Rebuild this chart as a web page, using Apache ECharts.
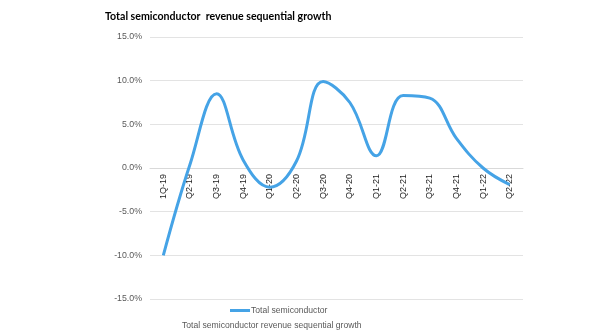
<!DOCTYPE html>
<html>
<head>
<meta charset="utf-8">
<script src="https://cdn.jsdelivr.net/npm/echarts@6/dist/echarts.min.js"></script>
<style>
  html, body { margin: 0; padding: 0; background: #fff; }
  #chart { width: 600px; height: 333px; }
</style>
</head>
<body>
<div id="chart"></div>
<script>
// Quarterly labels and sequential growth (%) of total semiconductor revenue
const quarters = ['1Q-19', 'Q2-19', 'Q3-19', 'Q4-19', 'Q1-20', 'Q2-20', 'Q3-20',
                  'Q4-20', 'Q1-21', 'Q2-21', 'Q3-21', 'Q4-21', 'Q1-22', 'Q2-22'];
const growth = [-10.0, 0.4, 8.5, 0.9, -2.2, 0.8, 9.9, 7.5, 1.4, 8.3, 8.0, 3.4, 0.0, -1.9];
const seriesName = 'Total semiconductor';
const titleText = 'Total semiconductor  revenue sequential growth';
const captionText = 'Total semiconductor revenue sequential growth';

const chart = echarts.init(document.getElementById('chart'), null, { renderer: 'canvas' });
const grey = '#595959';
const sans = '"Liberation Sans", Arial, sans-serif';

const gridTop = 37, gridBottom = 34;
// distance from the bottom of the plot to the 0% line (range -15..15)
const zeroOffset = (333 - gridTop - gridBottom) / 2;

chart.setOption({
  animation: false,
  backgroundColor: '#ffffff',
  title: [
    {
      text: titleText,
      left: 100, top: 6,
      textStyle: { fontFamily: 'Lato', fontWeight: 'bold', fontSize: 10.6, color: '#000' }
    },
    {
      text: captionText,
      left: 182, top: 321,
      padding: 0,
      textStyle: { fontFamily: sans, fontWeight: 'normal', fontSize: 8.6, color: grey }
    }
  ],
  legend: {
    data: [seriesName],
    left: 230, top: 306,
    padding: 0,
    itemWidth: 20, itemHeight: 3, itemGap: 0,
    icon: 'rect',
    textStyle: { fontFamily: sans, fontSize: 8.6, color: grey, padding: [0, 0, 0, -4] }
  },
  grid: { left: 150, right: 77, top: gridTop, bottom: gridBottom, outerBoundsMode: 'none' },
  xAxis: {
    type: 'category',
    data: quarters,
    boundaryGap: true,
    offset: -zeroOffset,
    axisLine: { onZero: false, lineStyle: { color: '#d9d9d9' } },
    axisTick: { show: false },
    axisLabel: {
      rotate: 90, margin: 6, fontFamily: sans, fontSize: 9, color: '#222'
    }
  },
  yAxis: {
    type: 'value',
    min: -15, max: 15, interval: 5,
    axisLine: { show: false },
    axisTick: { show: false },
    splitLine: { lineStyle: { color: '#e3e3e3' } },
    axisLabel: {
      margin: 8, fontFamily: sans, fontSize: 8.8, color: grey,
      formatter: v => v.toFixed(1) + '%'
    }
  },
  series: [{
    name: seriesName,
    type: 'line',
    data: growth,
    smooth: 0.4,
    symbol: 'none',
    lineStyle: { color: '#45a3e6', width: 3 },
    itemStyle: { color: '#45a3e6' }
  }]
});
</script>
</body>
</html>
